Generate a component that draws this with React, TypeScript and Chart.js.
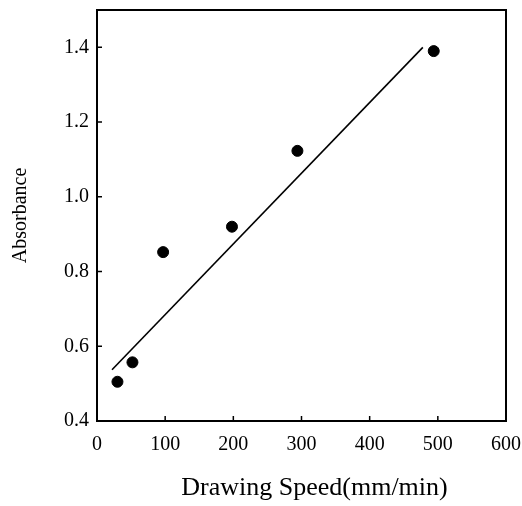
import React, { useEffect, useRef } from "react";
import { Chart, registerables } from "chart.js";

Chart.register(...registerables);

const speedX = [30, 52, 97, 198, 294, 494];
const absorbanceY = [0.505, 0.557, 0.852, 0.92, 1.123, 1.39];
const fitX = [22, 478];
const fitY = [0.537, 1.4];
const xTicks = [0, 100, 200, 300, 400, 500, 600];
const yTicks = [0.4, 0.6, 0.8, 1.0, 1.2, 1.4];
const xTitle = "Drawing Speed(mm/min)";
const yTitle = "Absorbance";

const FONT = "'Liberation Serif', 'DejaVu Serif', serif";

const frame = {
  id: "frame",
  afterDraw(chart: any) {
    const { ctx, chartArea: a, scales } = chart;
    ctx.save();
    ctx.strokeStyle = "#000";
    ctx.lineWidth = 2;
    ctx.strokeRect(a.left, a.top, a.right - a.left, a.bottom - a.top);
    ctx.lineWidth = 1.5;
    ctx.beginPath();
    for (const v of xTicks) {
      const px = scales.x.getPixelForValue(v);
      ctx.moveTo(px, a.bottom);
      ctx.lineTo(px, a.bottom - 5);
    }
    for (const v of yTicks) {
      const py = scales.y.getPixelForValue(v);
      ctx.moveTo(a.left, py);
      ctx.lineTo(a.left + 5, py);
    }
    ctx.stroke();
    // x axis title
    ctx.fillStyle = "#000";
    ctx.font = `26px ${FONT}`;
    ctx.textAlign = "center";
    ctx.textBaseline = "middle";
    ctx.fillText(xTitle, (a.left + a.right) / 2 + 13, a.bottom + 67);
    ctx.restore();
  },
};

export default function App() {
  const ref = useRef<HTMLCanvasElement>(null);
  useEffect(() => {
    const chart = new Chart(ref.current!, {
      type: "scatter",
      data: {
        datasets: [
          {
            data: speedX.map((x, i) => ({ x, y: absorbanceY[i] })),
            backgroundColor: "#000",
            borderColor: "#000",
            pointRadius: 5.5,
            pointHoverRadius: 5.5,
          },
          {
            type: "line",
            data: fitX.map((x, i) => ({ x, y: fitY[i] })),
            borderColor: "#000",
            borderWidth: 1.6,
            pointRadius: 0,
            fill: false,
          } as any,
        ],
      },
      options: {
        animation: false,
        responsive: false,
        layout: { padding: { left: 9, right: 16, top: 10, bottom: 37 } },
        plugins: { legend: { display: false }, tooltip: { enabled: false } },
        scales: {
          x: {
            type: "linear",
            min: 0,
            max: 600,
            afterBuildTicks: (s: any) => {
              s.ticks = xTicks.map((v) => ({ value: v }));
            },
            afterFit: (s: any) => {
              s.paddingLeft = 0;
              s.paddingRight = 0;
            },
            grid: { display: false, drawTicks: false },
            border: { display: false },
            ticks: {
              color: "#000",
              padding: 12,
              font: { family: FONT, size: 20 },
            },
          },
          y: {
            type: "linear",
            min: 0.4,
            max: 1.5,
            afterBuildTicks: (s: any) => {
              s.ticks = yTicks.map((v) => ({ value: v }));
            },
            afterFit: (s: any) => {
              s.paddingTop = 0;
              s.paddingBottom = 0;
            },
            grid: { display: false, drawTicks: false },
            border: { display: false },
            ticks: {
              color: "#000",
              padding: 8,
              font: { family: FONT, size: 20 },
              callback: (v: any) => Number(v).toFixed(1),
            },
            title: {
              display: true,
              text: yTitle,
              color: "#000",
              font: { family: FONT, size: 20 },
              padding: { top: 0, bottom: 23 },
            },
          },
        },
      },
      plugins: [frame],
    });
    return () => chart.destroy();
  }, []);
  return (
    <div style={{ position: "fixed", left: 0, top: 0, width: 522, height: 506, background: "#fff" }}>
      <canvas ref={ref} width={522} height={506} />
    </div>
  );
}
